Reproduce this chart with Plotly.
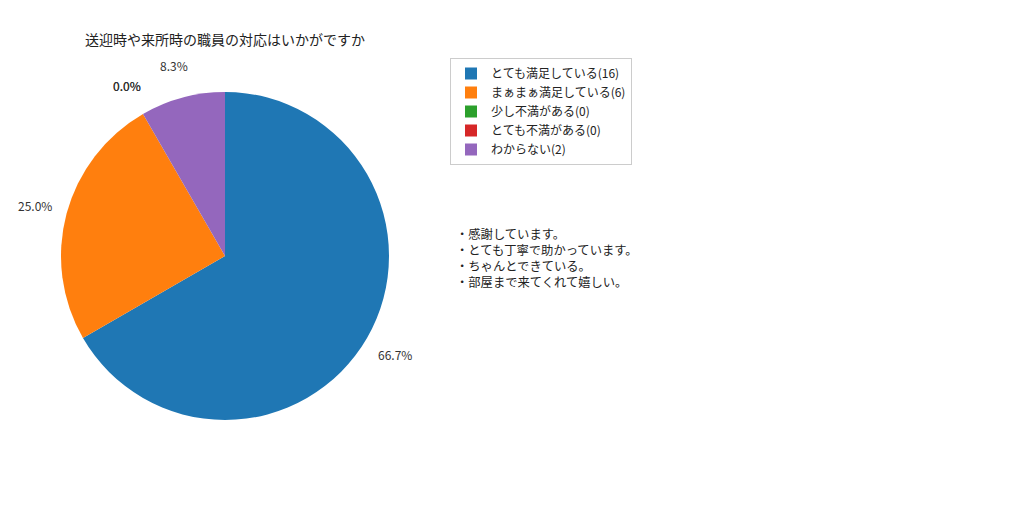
import math
import plotly.graph_objects as go

title = "送迎時や来所時の職員の対応はいかがですか"
answers = ["とても満足している", "まぁまぁ満足している", "少し不満がある", "とても不満がある", "わからない"]
counts = [16, 6, 0, 0, 2]
colors = ["#1f77b4", "#ff7f0e", "#2ca02c", "#d62728", "#9467bd"]
comments = ["感謝しています。", "とても丁寧で助かっています。", "ちゃんとできている。", "部屋まで来てくれて嬉しい。"]

font = "Noto Sans CJK JP, DejaVu Sans, sans-serif"
W, H = 1024, 512
OFF = 8  # page body margin

def px(x):
    return (x - OFF) / W

def py(y):
    return 1 - (y - OFF) / H

# pie geometry (pixels of the final picture)
cx, cy, r = 225, 256, 164

legend_labels = [f"{a}({c})" for a, c in zip(answers, counts)]

fig = go.Figure(go.Pie(
    labels=legend_labels, values=counts, sort=False,
    direction="clockwise", rotation=0,
    marker=dict(colors=colors),
    textinfo="none", hoverinfo="label+percent",
    showlegend=True,
    domain=dict(x=[px(cx - r), px(cx + r)], y=[py(cy + r), py(cy - r)]),
))

# percentage labels outside the pie, matplotlib style (pctdistance 1.2)
total = sum(counts)
annotations = []
cum = 0
for v in counts:
    mid = math.radians(90 - 360 * (cum + v / 2) / total)
    cum += v
    annotations.append(dict(
        text=f"{100 * v / total:.1f}%",
        x=px(cx + 1.2 * r * math.cos(mid)), y=py(cy - 1.2 * r * math.sin(mid)),
        xref="paper", yref="paper", xanchor="center", yanchor="middle",
        showarrow=False, font=dict(size=12, color="#333333"),
    ))

annotations.append(dict(
    text="<br>".join("・" + c for c in comments),
    x=px(454), y=py(223), xref="paper", yref="paper",
    xanchor="left", yanchor="top", align="left", showarrow=False,
    font=dict(size=12.3, color="#222222"),
))

fig.update_layout(
    width=W, height=H,
    margin=dict(l=0, r=0, t=0, b=0),
    paper_bgcolor="white",
    font=dict(family=font, size=12, color="#222222"),
    title=dict(text=title, x=px(225), xanchor="center", y=py(40), yanchor="middle",
               font=dict(size=14, color="#222222")),
    legend=dict(x=px(450), y=py(58), xanchor="left", yanchor="top",
                bordercolor="#cccccc", borderwidth=1, font=dict(size=12),
                tracegroupgap=0),
    annotations=annotations,
)

fig.write_html("out.html")
